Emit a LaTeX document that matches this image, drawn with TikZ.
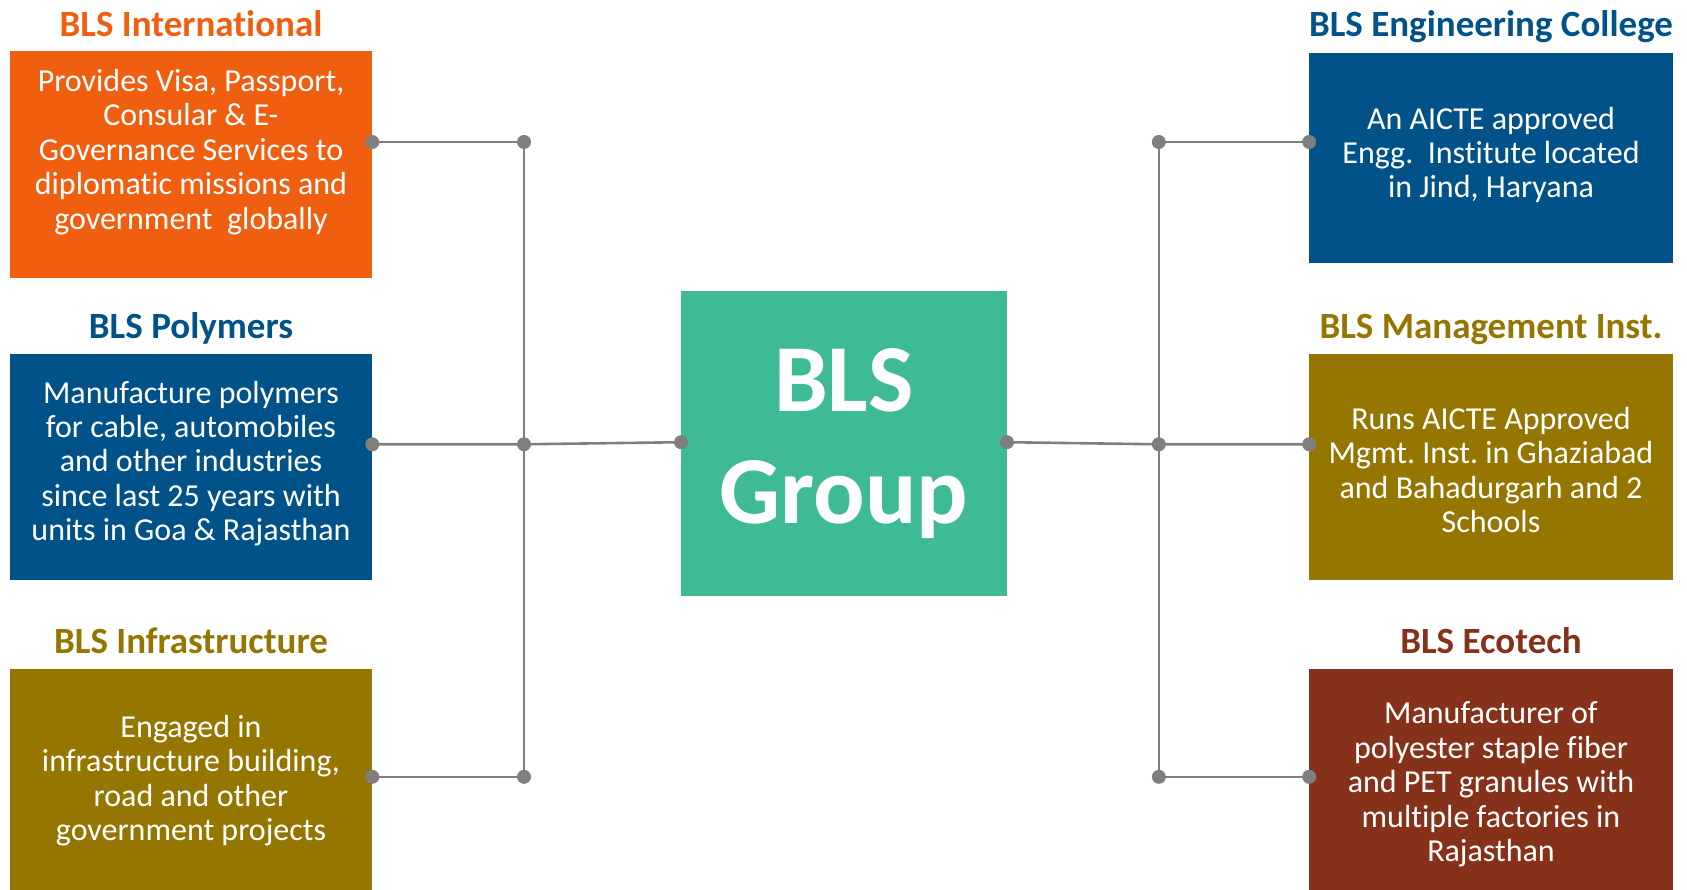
\documentclass[tikz,border=0pt]{standalone}
\usepackage{fontspec}
\setmainfont{Carlito}[Ligatures={NoCommon}]
\frenchspacing
\definecolor{cOrange}{RGB}{240,95,16}
\definecolor{cBlue}{RGB}{0,82,136}
\definecolor{cOlive}{RGB}{148,118,0}
\definecolor{cBrown}{RGB}{134,50,26}
\definecolor{cGreen}{RGB}{62,187,150}
\definecolor{cGray}{RGB}{127,127,127}
\begin{document}
\begin{tikzpicture}[x=1pt,y=-1pt,
  box/.style={rectangle, inner sep=0pt, draw=none},
  lbox/.style={box, minimum width=362.6pt},
  rbox/.style={box, minimum width=363.6pt},
  body/.style={text=white, align=center, inner sep=0pt, font=\fontsize{32}{34.4}\selectfont\frenchspacing},
  title/.style={inner sep=0pt, anchor=base, font=\fontsize{37}{40}\selectfont\bfseries},
  conn/.style={draw=cGray, line width=2.6pt},
  dot/.style={circle, fill=cGray, inner sep=0pt, minimum size=14pt}]
\useasboundingbox (0,0) rectangle (1687,890);
% boxes
\node[lbox, fill=cOrange, minimum height=227pt] (intl) at (191,164.1) {};
\node[lbox, fill=cBlue, minimum height=226pt] (poly) at (191,467) {};
\node[lbox, fill=cOlive, minimum height=221pt] (infra) at (191,779.5) {};
\node[rbox, fill=cBlue, minimum height=210pt] (eng) at (1491,157.6) {};
\node[rbox, fill=cOlive, minimum height=226pt] (mgmt) at (1491,467) {};
\node[rbox, fill=cBrown, minimum height=221pt] (eco) at (1491,779.5) {};
\node[box, fill=cGreen, minimum width=326pt, minimum height=305.5pt] (bls) at (844,443.3) {};
% titles
\node[title, text=cOrange] (tintl) at (191,36.5) {BLS International};
\node[title, text=cBlue] (tpoly) at (191,338.5) {BLS Polymers};
\node[title, text=cOlive] (tinfra) at (191,653.5) {BLS Infrastructure};
\node[title, text=cBlue] (teng) at (1491,36.5) {BLS Engineering College};
\node[title, text=cOlive] (tmgmt) at (1491,338.5) {BLS Management Inst.};
\node[title, text=cBrown] (teco) at (1491,653.5) {BLS Ecotech};
% body texts
\node[body] (xintl) at (191,152) {Provides Visa, Passport,\\Consular \& E-\\Governance Services to\\diplomatic missions and\\government\ \ globally};
\node[body] (xpoly) at (191,463.5) {Manufacture polymers\\for cable, automobiles\\and other industries\\since last 25 years with\\units in Goa \& Rajasthan};
\node[body] (xinfra) at (191,780.5) {Engaged in\\infrastructure building,\\road and other\\government projects};
\node[body] (xeng) at (1491,155) {An AICTE approved\\Engg.\ \ Institute located\\in Jind, Haryana};
\node[body] (xmgmt) at (1491,470) {Runs AICTE Approved\\Mgmt. Inst. in Ghaziabad\\and Bahadurgarh and 2\\Schools};
\node[body] (xeco) at (1491,784.5) {Manufacturer of\\polyester staple fiber\\and PET granules with\\multiple factories in\\Rajasthan};
\node[text=white, align=center, inner sep=0pt, font=\fontsize{96}{112}\selectfont\bfseries] (xbls) at (844,444) {BLS\\Group};
% connector points
\coordinate (pl1) at (372.3,142);
\coordinate (pl2) at (372.3,444.3);
\coordinate (pl3) at (372.3,776.8);
\coordinate (jl1) at (524,142);
\coordinate (jl2) at (524,444.3);
\coordinate (jl3) at (524,776.8);
\coordinate (gl) at (681,442.2);
\coordinate (gr) at (1007,442.2);
\coordinate (jr1) at (1158.8,142);
\coordinate (jr2) at (1158.8,444.3);
\coordinate (jr3) at (1158.8,776.8);
\coordinate (pr1) at (1309.2,142);
\coordinate (pr2) at (1309.2,444.3);
\coordinate (pr3) at (1309.2,776.8);
% connectors
\draw[conn] (pl1) -- (jl1) -- (jl3) -- (pl3);
\draw[conn] (pl2) -- (jl2) -- (gl);
\draw[conn] (pr1) -- (jr1) -- (jr3) -- (pr3);
\draw[conn] (pr2) -- (jr2) -- (gr);
% dots
\foreach \p in {pl1,pl2,pl3,jl1,jl2,jl3,gl,gr,jr1,jr2,jr3,pr1,pr2,pr3}
  \node[dot] at (\p) {};
\end{tikzpicture}
\end{document}
